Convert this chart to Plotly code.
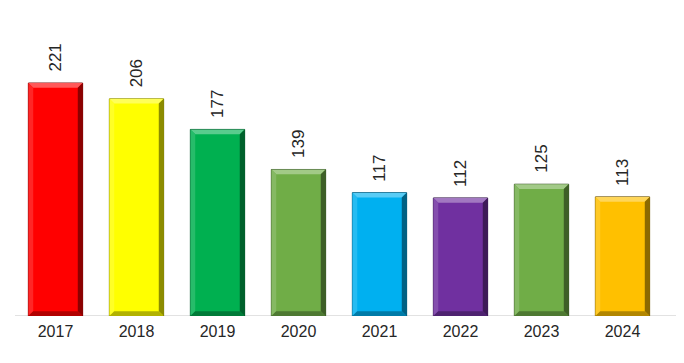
import plotly.graph_objects as go

years = ["2017", "2018", "2019", "2020", "2021", "2022", "2023", "2024"]
values = [221, 206, 177, 139, 117, 112, 125, 113]
colors = ["#FF0000", "#FFFF00", "#00B050", "#70AD47", "#00B0F0", "#7030A0", "#70AD47", "#FFC000"]

BAR_W = 0.67
Y_MAX = 290.3


def mix(hexc, other, t):
    hexc = hexc.lstrip("#")
    r, g, b = (int(hexc[i:i + 2], 16) for i in (0, 2, 4))
    o = other
    r = round(r + (o[0] - r) * t)
    g = round(g + (o[1] - g) * t)
    b = round(b + (o[2] - b) * t)
    return f"rgb({r},{g},{b})"


fig = go.Figure()
fig.add_trace(go.Bar(
    x=list(range(len(years))), y=values,
    marker=dict(color=colors, line=dict(color=[mix(c, (0, 0, 0), 0.55) for c in colors], width=1)),
    width=BAR_W,
    hoverinfo="x+y",
))

# bevel shapes derived from the bar geometry
h = BAR_W / 2
dx = 0.06      # ~5 px in category units
dy = 4.5       # ~5 px in value units
shapes = []
for i, v in enumerate(values):
    c = colors[i]
    L, R = i - h, i + h
    def poly(pts, fill):
        path = "M " + " L ".join(f"{x},{y}" for x, y in pts) + " Z"
        shapes.append(dict(type="path", path=path, xref="x", yref="y",
                           fillcolor=fill, line=dict(width=0), layer="above"))
    poly([(L, v), (R, v), (R - dx, v - dy), (L + dx, v - dy)], mix(c, (255, 255, 255), 0.35))
    poly([(L, v), (L + dx, v - dy), (L + dx, dy), (L, 0)], mix(c, (255, 255, 255), 0.15))
    poly([(R, v), (R, 0), (R - dx, dy), (R - dx, v - dy)], mix(c, (0, 0, 0), 0.45))
    poly([(L, 0), (R, 0), (R - dx, dy), (L + dx, dy)], mix(c, (0, 0, 0), 0.3))

# baseline (category axis line) extending to the right edge
shapes.append(dict(type="line", xref="paper", yref="y", x0=0, x1=1.04, y0=0, y1=0,
                   line=dict(color="#D9D9D9", width=1.5), layer="below"))

annotations = []
for i, v in enumerate(values):
    annotations.append(dict(
        x=i, y=v, xref="x", yref="y", text=str(v), showarrow=False,
        textangle=-90, yanchor="bottom", xanchor="center", yshift=9,
        font=dict(family="Liberation Sans, Arial, sans-serif", size=17, color="#262626"),
    ))

fig.update_layout(
    width=684, height=363,
    margin=dict(l=7, r=29, t=2, b=55),
    paper_bgcolor="white", plot_bgcolor="white",
    showlegend=False,
    shapes=shapes,
    annotations=annotations,
    xaxis=dict(
        range=[-0.5, len(years) - 0.5],
        tickmode="array", tickvals=list(range(len(years))), ticktext=years,
        showline=False,
        ticks="", showgrid=False, zeroline=False,
        ticklabelstandoff=4,
        tickfont=dict(family="Liberation Sans, Arial, sans-serif", size=16, color="#262626"),
    ),
    yaxis=dict(range=[0, Y_MAX], visible=False, showgrid=False, zeroline=False),
)

fig.write_html("out.html")
